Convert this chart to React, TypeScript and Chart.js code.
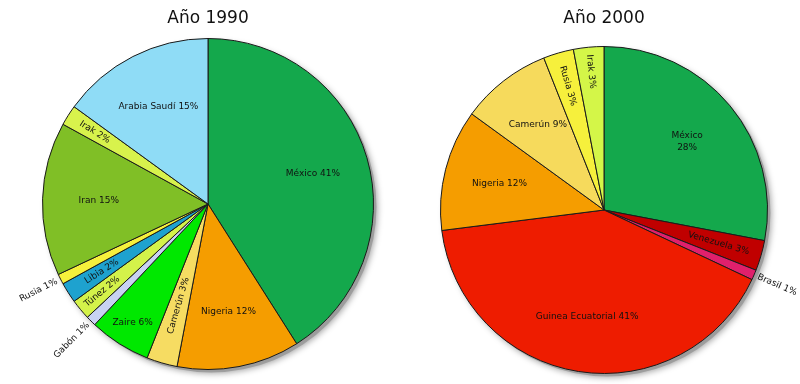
import React, { useEffect, useRef } from "react";
import { Chart, ArcElement, PieController } from "chart.js";

Chart.register(ArcElement, PieController);

// ---- Data ----
const title1990 = "Año 1990";
const countries1990 = ["México", "Nigeria", "Camerún", "Zaire", "Gabón", "Túnez", "Libia", "Rusia", "Iran", "Irak", "Arabia Saudí"];
const shares1990 = [41, 12, 3, 6, 1, 2, 2, 1, 15, 2, 15];

const title2000 = "Año 2000";
const countries2000 = ["México", "Venezuela", "Brasil", "Guinea Ecuatorial", "Nigeria", "Camerún", "Rusia", "Irak"];
const shares2000 = [28, 3, 1, 41, 12, 9, 3, 3];

// ---- Styles ----
const colors1990 = ["#14a84c", "#f59d00", "#f6dc62", "#00e800", "#c8d2f2", "#d4f24a", "#1ea2cf", "#f6f03c", "#80bf26", "#d8f24c", "#8fdcf6"];
const colors2000 = ["#14a84c", "#c00000", "#e0206c", "#ee1c00", "#f59d00", "#f6da5c", "#f6f03c", "#d4f648"];
const radius1990: Record<string, number> = { Zaire: 0.85, "Camerún": 0.64, Libia: 0.76, "Túnez": 0.83, Irak: 0.81 };
const radius2000: Record<string, number> = { Venezuela: 0.73, Rusia: 0.79, Irak: 0.85 };
const twoLine2000: Record<string, boolean> = { "México": true };

const pieLabels = {
  id: "pieLabels",
  beforeDatasetsDraw(chart: any) {
    const meta = chart.getDatasetMeta(0);
    const el = meta.data[0];
    if (!el) return;
    const { x, y, outerRadius } = el.getProps(["x", "y", "outerRadius"], true);
    const ctx = chart.ctx;
    ctx.save();
    ctx.beginPath();
    ctx.arc(x + 3, y + 3, outerRadius, 0, Math.PI * 2);
    ctx.shadowColor = "rgba(0,0,0,0.45)";
    ctx.shadowBlur = 6;
    ctx.shadowOffsetX = 1;
    ctx.shadowOffsetY = 1;
    ctx.fillStyle = "rgba(150,150,150,0.8)";
    ctx.fill();
    ctx.restore();
  },
  afterDatasetsDraw(chart: any, _args: any, opts: any) {
    const ctx = chart.ctx;
    const meta = chart.getDatasetMeta(0);
    const labels: string[] = chart.data.labels;
    const values: number[] = chart.data.datasets[0].data;
    ctx.save();
    // title
    const first = meta.data[0].getProps(["x"], true);
    ctx.fillStyle = "#111";
    ctx.font = '17px "DejaVu Sans"';
    ctx.textAlign = "center";
    ctx.textBaseline = "alphabetic";
    ctx.fillText(opts.title, first.x, 23);

    ctx.font = '9px "DejaVu Sans"';
    ctx.textBaseline = "middle";
    meta.data.forEach((el: any, i: number) => {
      const { x, y, startAngle, endAngle, outerRadius } = el.getProps(["x", "y", "startAngle", "endAngle", "outerRadius"], true);
      const mid = (startAngle + endAngle) / 2;
      const pct = values[i];
      const name = labels[i];
      const text = `${name} ${pct}%`;
      let a = mid;
      while (a > Math.PI) a -= Math.PI * 2;
      while (a <= -Math.PI) a += Math.PI * 2;
      let rot = a;
      let flipped = false;
      if (a > Math.PI / 2) { rot = a - Math.PI; flipped = true; }
      else if (a < -Math.PI / 2) { rot = a + Math.PI; flipped = true; }
      const overrides = opts.radii || {};
      if (pct <= 1) {
        const r = outerRadius + 4;
        ctx.save();
        ctx.translate(x + Math.cos(mid) * r, y + Math.sin(mid) * r);
        ctx.rotate(rot);
        ctx.textAlign = flipped ? "right" : "left";
        ctx.fillText(text, 0, 0);
        ctx.restore();
      } else if (pct < 5) {
        const f = overrides[name] ?? 0.8;
        const r = outerRadius * f;
        ctx.save();
        ctx.translate(x + Math.cos(mid) * r, y + Math.sin(mid) * r);
        ctx.rotate(rot);
        ctx.textAlign = "center";
        ctx.fillText(text, 0, 0);
        ctx.restore();
      } else {
        const f = overrides[name] ?? 0.66;
        const r = outerRadius * f;
        const px = x + Math.cos(mid) * r;
        const py = y + Math.sin(mid) * r;
        ctx.textAlign = "center";
        if (opts.twoLine && opts.twoLine[name]) {
          ctx.fillText(name, px, py - 6);
          ctx.fillText(`${pct}%`, px, py + 6);
        } else {
          ctx.fillText(text, px, py);
        }
      }
    });
    ctx.restore();
  },
};

function PieChart(props: { labels: string[]; values: number[]; colors: string[]; title: string; padding: any; radii: any; twoLine?: any }) {
  const ref = useRef<HTMLCanvasElement | null>(null);
  useEffect(() => {
    if (!ref.current) return;
    const chart = new Chart(ref.current, {
      type: "pie",
      data: {
        labels: props.labels,
        datasets: [
          {
            data: props.values,
            backgroundColor: props.colors,
            borderColor: "#1a1a1a",
            borderWidth: 1,
          },
        ],
      },
      options: {
        responsive: false,
        animation: false,
        events: [],
        layout: { padding: props.padding },
        plugins: {
          legend: { display: false },
          tooltip: { enabled: false },
          pieLabels: { title: props.title, radii: props.radii, twoLine: props.twoLine },
        } as any,
      },
      plugins: [pieLabels as any],
    });
    return () => chart.destroy();
  }, []);
  return <canvas ref={ref} width={400} height={384} style={{ width: 400, height: 384, display: "block" }} />;
}

export default function App() {
  return (
    <div style={{ position: "absolute", left: 0, top: 0, width: 800, height: 384, background: "#fff", display: "flex" }}>
      <PieChart
        labels={countries1990}
        values={shares1990}
        colors={colors1990}
        title={title1990}
        padding={{ left: 42, right: 26, top: 38, bottom: 14 }}
        radii={radius1990}
      />
      <PieChart
        labels={countries2000}
        values={shares2000}
        colors={colors2000}
        title={title2000}
        padding={{ left: 39, right: 31, top: 46, bottom: 10 }}
        radii={radius2000}
        twoLine={twoLine2000}
      />
    </div>
  );
}
